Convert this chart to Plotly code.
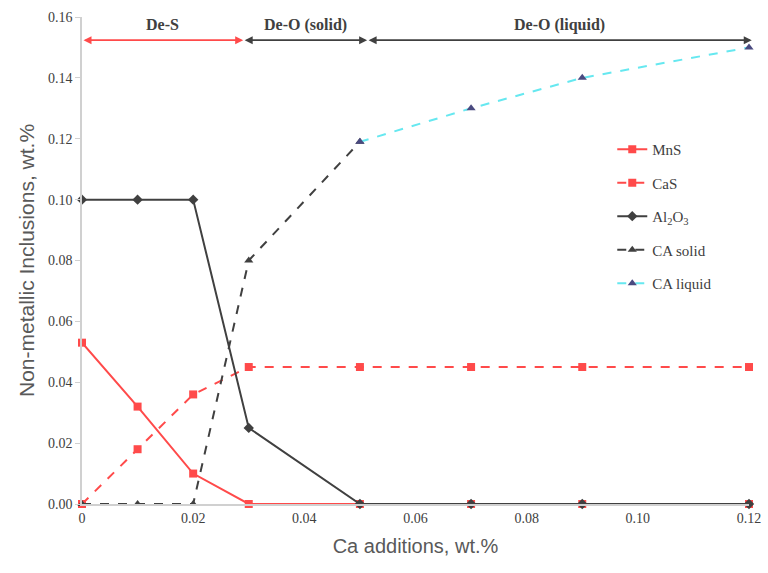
import plotly.graph_objects as go

ca_x = [0, 0.01, 0.02, 0.03, 0.05, 0.07, 0.09, 0.12]
mns = [0.053, 0.032, 0.010, 0.0, 0.0, 0.0, 0.0, 0.0]
cas = [0.0, 0.018, 0.036, 0.045, 0.045, 0.045, 0.045, 0.045]
al2o3 = [0.100, 0.100, 0.100, 0.025, 0.0, 0.0, 0.0, 0.0]
ca_solid_x = [0, 0.01, 0.02, 0.03, 0.05]
ca_solid = [0.0, 0.0, 0.0, 0.080, 0.119]
ca_liquid_x = [0.05, 0.07, 0.09, 0.12]
ca_liquid = [0.119, 0.130, 0.140, 0.150]

x_ticks = [0, 0.02, 0.04, 0.06, 0.08, 0.10, 0.12]
x_tick_text = ["0", "0.02", "0.04", "0.06", "0.08", "0.10", "0.12"]
y_ticks = [0, 0.02, 0.04, 0.06, 0.08, 0.10, 0.12, 0.14, 0.16]
y_tick_text = ["0.00", "0.02", "0.04", "0.06", "0.08", "0.10", "0.12", "0.14", "0.16"]

# stage regions: (label, start, end, colour)
stage_labels = ["De-S", "De-O (solid)", "De-O (liquid)"]
stage_start = [0.0, 0.029, 0.0513]
stage_end = [0.029, 0.0513, 0.1205]
stage_colors = ["#FF4A4A", "#404040", "#404040"]
arrow_y = 0.1524
label_y = 0.1575

RED = "#FF4A4A"
DARK = "#404040"

fig = go.Figure()
fig.add_trace(go.Scatter(x=ca_x, y=mns, name="MnS", mode="lines+markers", legendgroup="a", cliponaxis=False,
                         line=dict(color=RED, width=2), marker=dict(symbol="square", size=8, color=RED)))
fig.add_trace(go.Scatter(x=ca_x, y=cas, name="CaS", mode="lines+markers", legendgroup="b", cliponaxis=False,
                         line=dict(color=RED, width=2, dash="dash"), marker=dict(symbol="square", size=8, color=RED)))
fig.add_trace(go.Scatter(x=ca_x, y=al2o3, name="Al<sub>2</sub>O<sub>3</sub>", mode="lines+markers", legendgroup="c",
                         cliponaxis=False,
                         line=dict(color=DARK, width=2), marker=dict(symbol="diamond", size=8, color=DARK)))
fig.add_trace(go.Scatter(x=ca_solid_x, y=ca_solid, name="CA solid", mode="lines+markers", legendgroup="d",
                         cliponaxis=False,
                         line=dict(color=DARK, width=2, dash="dash"), marker=dict(symbol="triangle-up", size=8, color=DARK)))
fig.add_trace(go.Scatter(x=ca_liquid_x, y=ca_liquid, name="CA liquid", mode="lines+markers", legendgroup="e",
                         cliponaxis=False,
                         line=dict(color="#66E8F0", width=2, dash="dash"),
                         marker=dict(symbol="triangle-up", size=8, color="#4A4A80")))

for lab, s, e, c in zip(stage_labels, stage_start, stage_end, stage_colors):
    fig.add_annotation(x=e, y=arrow_y, ax=s, ay=arrow_y, xref="x", yref="y", axref="x", ayref="y",
                       text="", showarrow=True, arrowhead=2, arrowside="end+start",
                       arrowsize=1, arrowwidth=1.6, arrowcolor=c)
    fig.add_annotation(x=(s + e) / 2, y=label_y, xref="x", yref="y", text="<b>" + lab + "</b>",
                       showarrow=False, yanchor="middle",
                       font=dict(family="Liberation Serif", size=16, color="#404040"))

fig.update_layout(
    width=768, height=573,
    margin=dict(l=82, r=19, t=17, b=69),
    plot_bgcolor="white", paper_bgcolor="white",
    showlegend=True,
    legend=dict(x=0.795, y=0.762, xanchor="left", yanchor="top", bgcolor="rgba(0,0,0,0)",
                font=dict(family="Liberation Serif", size=15, color="#404040"),
                tracegroupgap=11, traceorder="grouped", itemwidth=30),
    xaxis=dict(range=[0, 0.12], tickvals=x_ticks, ticktext=x_tick_text, showgrid=False, zeroline=False,
               showline=True, linecolor="#D0D0D0", linewidth=1.5, ticks="", ticklen=0,
               tickfont=dict(family="Liberation Serif", size=14, color="#404040"),
               title=dict(text="Ca additions, wt.%", font=dict(family="Liberation Sans", size=20, color="#595959"),
                          standoff=14)),
    yaxis=dict(range=[0, 0.16], tickvals=y_ticks, ticktext=y_tick_text, showgrid=False, zeroline=False,
               showline=True, linecolor="#D0D0D0", linewidth=1.5, ticks="outside", ticklen=5, tickcolor="#D0D0D0",
               tickfont=dict(family="Liberation Serif", size=14, color="#404040"),
               title=dict(text="Non-metallic Inclusions, wt.%", font=dict(family="Liberation Sans", size=21, color="#595959"),
                          standoff=8)),
)
fig.update_xaxes(automargin=False)
fig.update_yaxes(automargin=False)
fig.write_html("out.html")
